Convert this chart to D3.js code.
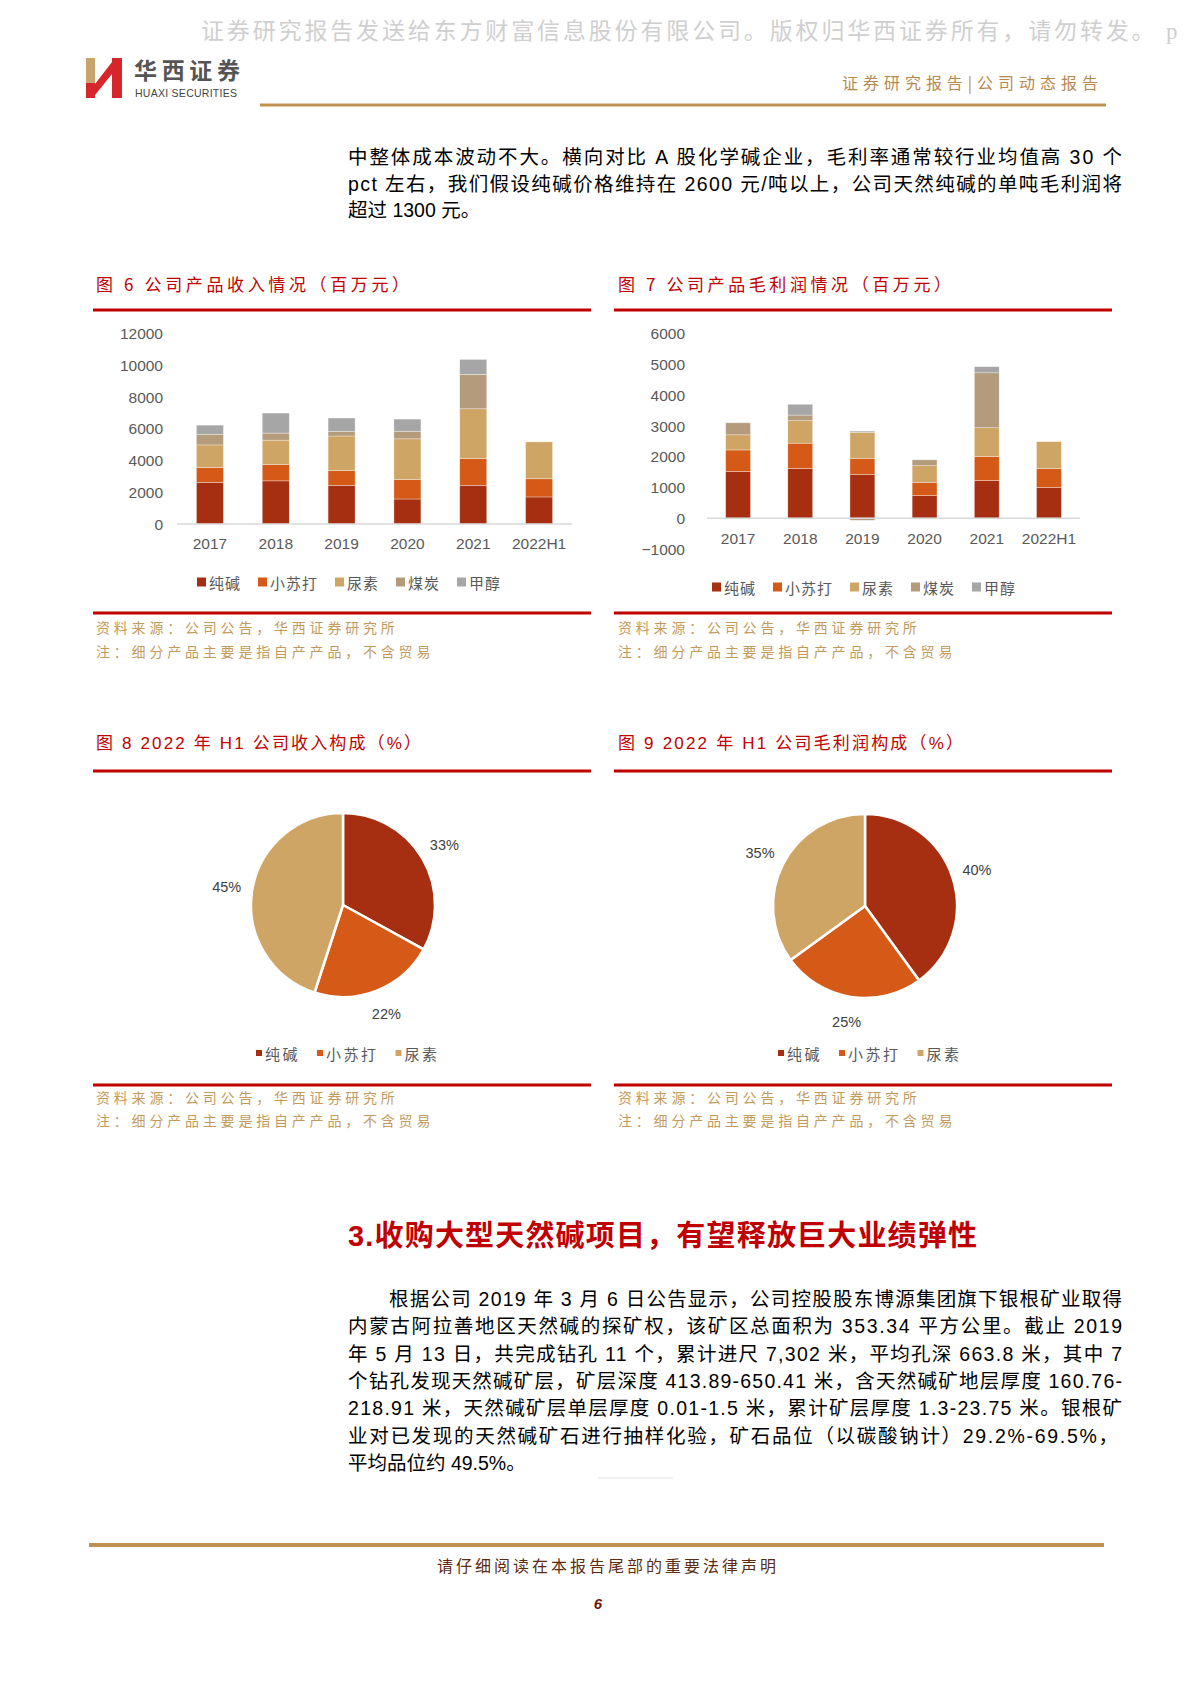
<!DOCTYPE html>
<html><head><meta charset="utf-8">
<script src="https://cdn.jsdelivr.net/npm/d3@7"></script>
<style>body{margin:0;background:#fff} svg{display:block}</style>
</head><body><div id="page"></div>
<script>
// ---------------- DATA ----------------
const years = ["2017","2018","2019","2020","2021","2022H1"];
const products = ["纯碱","小苏打","尿素","煤炭","甲醇"];
// 图6 revenue (百万元)
const revenueSoda     = [2620, 2710, 2430, 1570, 2430, 1700];
const revenueBicarb   = [ 930, 1030,  920, 1220, 1680, 1140];
const revenueUrea     = [1420, 1530, 2180, 2560, 3130, 2320];
const revenueCoal     = [ 650,  440,  290,  480, 2160,    0];
const revenueMethanol = [ 590, 1260,  840,  760,  940,    0];
const revenueTicks = [0, 2000, 4000, 6000, 8000, 10000, 12000];
// 图7 gross profit (百万元)
const profitSoda     = [1510, 1610, 1410,  730, 1220,  990];
const profitBicarb   = [ 700,  820,  530,  430,  780,  620];
const profitUrea     = [ 490,  730,  840,  540,  930,  870];
const profitCoal     = [ 390,  180,  -70,  190, 1780,    0];
const profitMethanol = [   0,  350,   40,  -30,  200,    0];
const profitTicks = [-1000, 0, 1000, 2000, 3000, 4000, 5000, 6000];
// 图8 / 图9 pies (%)
const pieProducts = ["纯碱","小苏打","尿素"];
const pieRevenue = [33, 22, 45];
const pieProfit  = [40, 25, 35];

const colors = ["#a52f10", "#d55a17", "#cfa566", "#b39b7c", "#a6a6a6"];

// ---------------- SETUP ----------------
const W = 1189, H = 1683;
const CJK = "'Noto Sans CJK SC', sans-serif";
const MIX = "'Liberation Sans', Arial, 'Noto Sans CJK SC', sans-serif";
const RED = "#c00000", GOLD = "#c09050", SRC = "#c49a5c";

const svg = d3.select("#page").append("svg").attr("width", W).attr("height", H);
svg.append("rect").attr("width", W).attr("height", H).attr("fill", "#fff");

function txt(x, y, s, o = {}) {
  const t = svg.append("text").attr("x", x).attr("y", y).text(s)
    .attr("font-family", o.family || MIX)
    .attr("font-size", o.size || 16)
    .attr("fill", o.fill || "#000")
    .attr("dominant-baseline", "central")
    .attr("text-anchor", o.anchor || "start");
  if (o.weight) t.attr("font-weight", o.weight);
  if (o.style) t.attr("font-style", o.style);
  if (o.ls) t.attr("letter-spacing", o.ls);
  if (o.len) t.attr("textLength", o.len).attr("lengthAdjust", "spacing");
  return t;
}
function hline(x1, x2, y, color, w) {
  svg.append("line").attr("x1", x1).attr("x2", x2).attr("y1", y).attr("y2", y)
    .attr("stroke", color).attr("stroke-width", w);
}

// ---------------- HEADER ----------------
txt(201, 31, "证券研究报告发送给东方财富信息股份有限公司。版权归华西证券所有，请勿转发。 p",
  {family: "'Liberation Serif', 'Noto Sans CJK SC', serif", size: 23, fill: "#cfcfcf", ls: 2.85});

// logo
svg.append("rect").attr("x", 86).attr("y", 58).attr("width", 9).attr("height", 25).attr("fill", "#c9a46a");
svg.append("rect").attr("x", 86).attr("y", 83).attr("width", 9).attr("height", 15).attr("fill", "#d7262b");
svg.append("polygon").attr("points", "95,84 112,62 112,74 95,95").attr("fill", "#d7262b");
svg.append("rect").attr("x", 112).attr("y", 58).attr("width", 10).attr("height", 40).attr("fill", "#d7262b");
txt(134, 69, "华西证券", {family: CJK, size: 23, weight: 700, fill: "#555", len: 106});
txt(135, 93, "HUAXI SECURITIES", {family: "'Liberation Sans', Arial, sans-serif", size: 10.5, fill: "#444", len: 102});

txt(842, 82, "证券研究报告|公司动态报告", {family: CJK, size: 16, fill: "#b8894e", len: 256});
hline(260, 1106, 105, GOLD, 3);

// paragraph 1
const para1 = [
  "中整体成本波动不大。横向对比 A 股化学碱企业，毛利率通常较行业均值高 30 个",
  "pct 左右，我们假设纯碱价格维持在 2600 元/吨以上，公司天然纯碱的单吨毛利润将",
  "超过 1300 元。"
];
para1.forEach((l, i) => txt(348, 157 + i * 26.5, l, {size: 19.5, len: i < 2 ? 774 : null}));

// ---------------- FIGURE TITLES & RULES ----------------
txt(96, 283, "图 6 公司产品收入情况（百万元）", {family: CJK, size: 17, fill: RED, len: 313});
txt(618, 283, "图 7 公司产品毛利润情况（百万元）", {family: CJK, size: 17, fill: RED, len: 333});
hline(93, 591, 310, RED, 3);
hline(614, 1112, 310, RED, 3);
hline(93, 591, 613, RED, 3);
hline(614, 1112, 613, RED, 3);
[96, 618].forEach(x => {
  txt(x, 627, "资料来源：公司公告，华西证券研究所", {family: CJK, size: 14, fill: SRC, ls: 3.8});
  txt(x, 651, "注：细分产品主要是指自产产品，不含贸易", {family: CJK, size: 14, fill: SRC, ls: 3.8});
});

txt(96, 743, "图 8  2022 年 H1 公司收入构成（%）", {family: MIX, size: 17, fill: RED, len: 325});
txt(618, 743, "图 9  2022 年 H1 公司毛利润构成（%）", {family: MIX, size: 17, fill: RED, len: 345});
hline(93, 591, 771, RED, 3);
hline(614, 1112, 771, RED, 3);
hline(93, 591, 1085, RED, 3);
hline(614, 1112, 1085, RED, 3);
[96, 618].forEach(x => {
  txt(x, 1097, "资料来源：公司公告，华西证券研究所", {family: CJK, size: 14, fill: SRC, ls: 3.8});
  txt(x, 1120, "注：细分产品主要是指自产产品，不含贸易", {family: CJK, size: 14, fill: SRC, ls: 3.8});
});

// ---------------- BAR CHARTS ----------------
function legend(items, x0, y, sq, size, charW, gap, textOff, ls) {
  let x = x0;
  items.forEach((name, i) => {
    svg.append("rect").attr("x", x).attr("y", y - sq / 2).attr("width", sq).attr("height", sq).attr("fill", colors[i]);
    txt(x + textOff, y, name, {family: CJK, size: size, fill: "#595959", ls: ls});
    x += textOff + name.length * charW + gap;
  });
}

function barChart(cfg) {
  const rows = years.map((yr, i) => {
    const r = {year: yr};
    products.forEach((p, k) => r[p] = cfg.series[k][i]);
    return r;
  });
  const stack = d3.stack().keys(products).offset(d3.stackOffsetDiverging)(rows);
  const x = d3.scaleBand().domain(years).range(cfg.xr).paddingInner(cfg.pad).paddingOuter(cfg.pad / 2);
  const y = d3.scaleLinear().domain(cfg.domain).range(cfg.yr);
  const g = svg.append("g");
  const yAxis = g.append("g").attr("transform", `translate(${cfg.labelX},0)`)
    .call(d3.axisLeft(y).tickValues(cfg.ticks).tickSize(0).tickPadding(0).tickFormat(d3.format("d")));
  yAxis.select(".domain").remove();
  yAxis.selectAll("text").attr("font-family", "'Liberation Sans', Arial, sans-serif")
    .attr("font-size", 15.5).attr("fill", "#595959").attr("dy", "0.35em");
  stack.forEach((layer, k) => {
    g.append("g").selectAll("rect").data(layer).join("rect")
      .attr("x", d => x(d.data.year))
      .attr("width", x.bandwidth())
      .attr("y", d => y(Math.max(d[0], d[1])))
      .attr("height", d => Math.abs(y(d[0]) - y(d[1])))
      .attr("fill", colors[k])
      .attr("stroke", "#fff").attr("stroke-opacity", 0.55).attr("stroke-width", 0.6);
  });
  g.append("line").attr("x1", cfg.xr[0]).attr("x2", cfg.xr[1]).attr("y1", y(0)).attr("y2", y(0))
    .attr("stroke", "#d9d9d9").attr("stroke-width", 1.5);
  const xAxis = g.append("g").attr("transform", `translate(0,${cfg.catY})`)
    .call(d3.axisBottom(x).tickSize(0).tickPadding(0));
  xAxis.select(".domain").remove();
  xAxis.selectAll("text").attr("font-family", "'Liberation Sans', Arial, sans-serif")
    .attr("font-size", 15.5).attr("fill", "#595959").attr("dy", "0.35em").attr("y", 0);
  legend(products, cfg.legendX, cfg.legendY, 9, 15, 16, 17, 12, 1);
}

barChart({
  series: [revenueSoda, revenueBicarb, revenueUrea, revenueCoal, revenueMethanol],
  xr: [177, 572], pad: 0.59, domain: [0, 12000], yr: [524, 333], ticks: revenueTicks,
  labelX: 163, catY: 544, legendX: 197, legendY: 582
});
barChart({
  series: [profitSoda, profitBicarb, profitUrea, profitCoal, profitMethanol],
  xr: [707, 1080], pad: 0.6, domain: [-1000, 6000], yr: [549, 333], ticks: profitTicks,
  labelX: 685, catY: 539, legendX: 712, legendY: 587
});

// ---------------- PIE CHARTS ----------------
function pieChart(values, cx, cy, r, legendX, legendY) {
  const arcs = d3.pie().sort(null).value(d => d)(values);
  const arc = d3.arc().innerRadius(0).outerRadius(r);
  const lab = d3.arc().innerRadius(r * 1.28).outerRadius(r * 1.28);
  const g = svg.append("g").attr("transform", `translate(${cx},${cy})`);
  g.selectAll("path").data(arcs).join("path")
    .attr("d", arc).attr("fill", (d, i) => colors[i])
    .attr("stroke", "#fff").attr("stroke-width", 2.5).attr("stroke-linejoin", "round");
  g.selectAll("text").data(arcs).join("text")
    .attr("transform", d => `translate(${lab.centroid(d)})`)
    .attr("text-anchor", "middle").attr("dominant-baseline", "central")
    .attr("font-family", "'Liberation Sans', Arial, sans-serif").attr("font-size", 14.5)
    .attr("fill", "#404040").text(d => d.data + "%");
  let x = legendX;
  pieProducts.forEach((name, i) => {
    svg.append("rect").attr("x", x).attr("y", legendY - 3).attr("width", 6).attr("height", 6).attr("fill", colors[i]);
    txt(x + 9, legendY, name, {family: CJK, size: 15, fill: "#595959", ls: 2.5});
    x += 9 + name.length * 17.5 + 17;
  });
}
pieChart(pieRevenue, 343, 905, 92, 256, 1053);
pieChart(pieProfit, 865, 906, 92, 778, 1053);

// ---------------- SECTION 3 ----------------
txt(348, 1236, "3.收购大型天然碱项目，有望释放巨大业绩弹性", {family: MIX, size: 29, weight: 700, fill: RED, len: 629});
const para2 = [
  "根据公司 2019 年 3 月 6 日公告显示，公司控股股东博源集团旗下银根矿业取得",
  "内蒙古阿拉善地区天然碱的探矿权，该矿区总面积为 353.34 平方公里。截止 2019",
  "年 5 月 13 日，共完成钻孔 11 个，累计进尺 7,302 米，平均孔深 663.8 米，其中 7",
  "个钻孔发现天然碱矿层，矿层深度 413.89-650.41 米，含天然碱矿地层厚度 160.76-",
  "218.91 米，天然碱矿层单层厚度 0.01-1.5 米，累计矿层厚度 1.3-23.75 米。银根矿",
  "业对已发现的天然碱矿石进行抽样化验，矿石品位（以碳酸钠计）29.2%-69.5%，",
  "平均品位约 49.5%。"
];
para2.forEach((l, i) => {
  const x = i === 0 ? 389 : 348;
  const len = i === 6 ? null : (i === 5 ? 770 : 1122 - x);
  txt(x, 1299 + i * 27.3, l, {size: 19.5, len: len});
});
hline(598, 673, 1478, "#e3e3e3", 1);

// ---------------- FOOTER ----------------
hline(89, 1104, 1545, GOLD, 4);
txt(608, 1565, "请仔细阅读在本报告尾部的重要法律声明", {family: CJK, size: 16, fill: "#5b2b12", anchor: "middle", ls: 3});
txt(598, 1603, "6", {family: "'Liberation Sans', Arial, sans-serif", size: 15, weight: 700, style: "italic", fill: "#6b1a10", anchor: "middle"});
</script>
</body></html>
